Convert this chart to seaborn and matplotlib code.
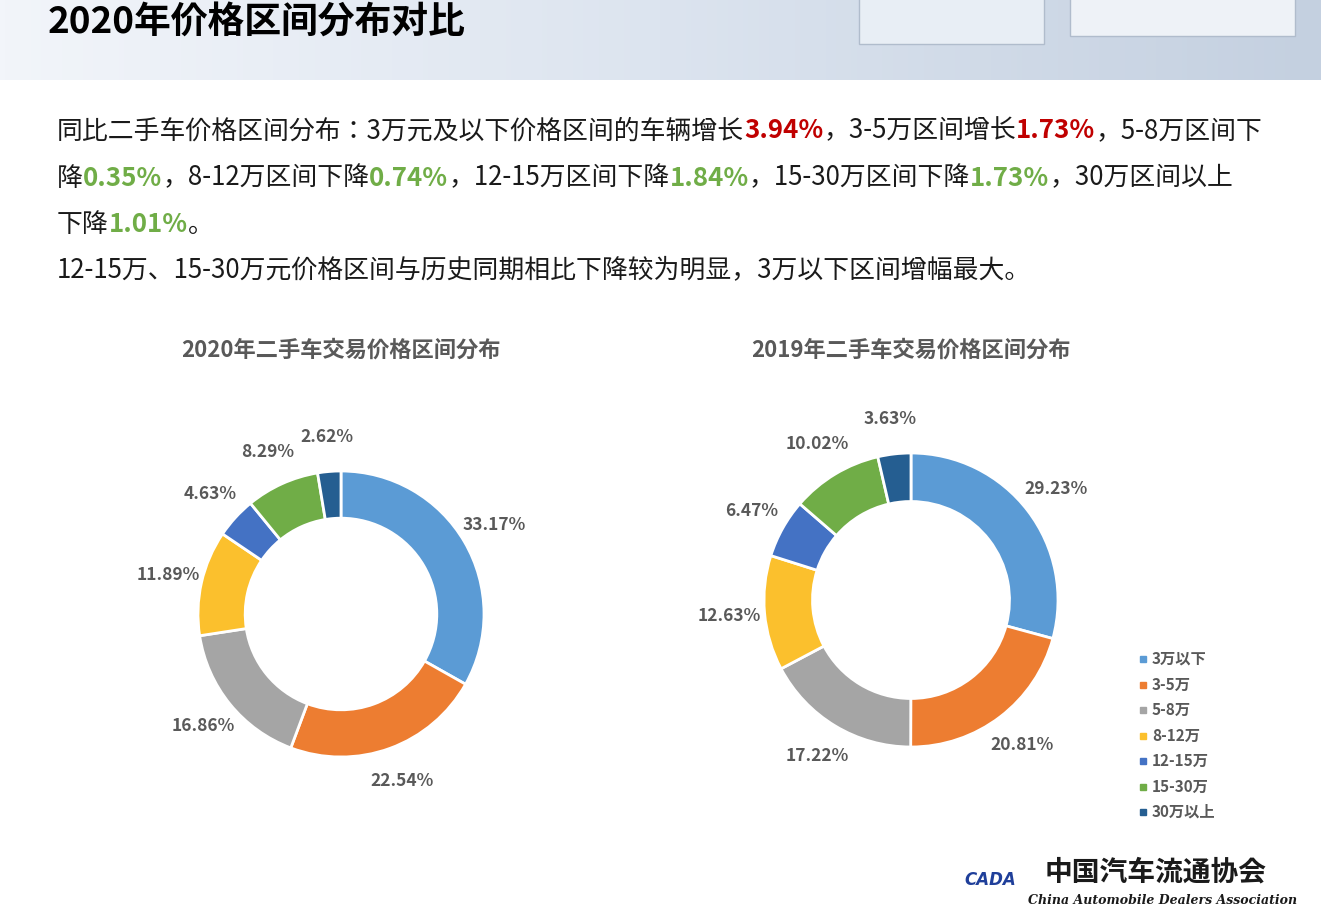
import matplotlib
matplotlib.use("Agg")
import matplotlib.pyplot as plt
import seaborn as sns
from matplotlib.patches import Rectangle
import numpy as np

sns.set_theme(style="white")
CJK = ["Noto Sans CJK SC", "Noto Sans CJK JP", "Noto Sans CJK TC", "Noto Sans CJK KR", "DejaVu Sans"]
plt.rcParams["font.family"] = CJK

categories = ["3万以下", "3-5万", "5-8万", "8-12万", "12-15万", "15-30万", "30万以上"]
values_2020 = [33.17, 22.54, 16.86, 11.89, 4.63, 8.29, 2.62]
values_2019 = [29.23, 20.81, 17.22, 12.63, 6.47, 10.02, 3.63]
colors = ["#5B9BD5", "#ED7D31", "#A5A5A5", "#FBC02D", "#4472C4", "#70AD47", "#255E91"]

W, H = 1321, 914
fig = plt.figure(figsize=(W / 100, H / 100), dpi=100)
fig.patch.set_facecolor("white")

# header band
hdr = fig.add_axes([0, 1 - 80 / H, 1, 80 / H])
grad = np.linspace(0, 1, 256).reshape(1, -1)
hdr.imshow(grad, aspect="auto", cmap=matplotlib.colors.LinearSegmentedColormap.from_list(
    "g", ["#F2F5FA", "#DCE4EF", "#C4D0E0"]), extent=[0, 1, 0, 1])
hdr.add_patch(Rectangle((0.65, 0.45), 0.14, 0.6, color="#E8EEF5", ec="#B0BCCC"))
hdr.add_patch(Rectangle((0.81, 0.55), 0.17, 0.5, color="#EEF2F7", ec="#B0BCCC"))
hdr.set_xlim(0, 1); hdr.set_ylim(0, 1); hdr.axis("off")
fig.text(48 / W, 1 - 22 / H, "2020年价格区间分布对比", fontsize=26.5, fontweight="bold",
         va="center", ha="left", color="black")

# paragraph with coloured numbers
RED, GRN, BLK = "#C00000", "#70AD47", "#1A1A1A"
lines = [
    [("同比二手车价格区间分布：3万元及以下价格区间的车辆增长", BLK), ("3.94%", RED),
     ("，3-5万区间增长", BLK), ("1.73%", RED), ("，5-8万区间下", BLK)],
    [("降", BLK), ("0.35%", GRN), ("，8-12万区间下降", BLK), ("0.74%", GRN),
     ("，12-15万区间下降", BLK), ("1.84%", GRN), ("，15-30万区间下降", BLK),
     ("1.73%", GRN), ("，30万区间以上", BLK)],
    [("下降", BLK), ("1.01%", GRN), ("。", BLK)],
    [("12-15万、15-30万元价格区间与历史同期相比下降较为明显，3万以下区间增幅最大。", BLK)],
]
ys = [131, 178, 224, 270]
fig.canvas.draw()
r = fig.canvas.get_renderer()
for segs, y in zip(lines, ys):
    x = 57
    for s, c in segs:
        bold = c != BLK
        t = fig.text(x / W, 1 - y / H, s, fontsize=18.6, color=c, va="center", ha="left",
                     fontweight="bold" if bold else "normal")
        x += t.get_window_extent(renderer=r).width

def donut(cx, cy, R, vals, title, ty, d):
    ax = fig.add_axes([(cx - R) / W, (H - cy - R) / H, 2 * R / W, 2 * R / H])
    wedges, _ = ax.pie(vals, colors=colors, startangle=90, counterclock=False,
                       wedgeprops=dict(width=0.33, edgecolor="white", linewidth=2))
    for w, v in zip(wedges, vals):
        ang = np.deg2rad((w.theta1 + w.theta2) / 2)
        ax.text(d * np.cos(ang), d * np.sin(ang), f"{v:.2f}%", ha="center", va="center",
                fontsize=12.5, fontweight="bold", color="#595959")
    ax.set_xlim(-1, 1); ax.set_ylim(-1, 1); ax.set_aspect("equal"); ax.axis("off")
    fig.text(cx / W, 1 - ty / H, title, ha="center", va="center", fontsize=16,
             fontweight="bold", color="#595959")

donut(341, 614, 143, values_2020, "2020年二手车交易价格区间分布", 350, 1.24)
donut(911, 600, 147, values_2019, "2019年二手车交易价格区间分布", 350, 1.24)

# legend
for i, (c, lab) in enumerate(zip(colors, categories)):
    y = 659 + i * 25.5
    fig.patches.append(Rectangle(((1140) / W, 1 - (y + 3) / H), 6 / W, 6 / H,
                                 transform=fig.transFigure, color=c))
    fig.text(1152 / W, 1 - y / H, lab, fontsize=11, fontweight="bold", color="#595959",
             va="center", ha="left")

# logo text
fig.text(1045 / W, 1 - 872 / H, "中国汽车流通协会", fontsize=20, fontweight="bold",
         color="#1A1A1A", va="center", ha="left")
fig.text(1028 / W, 1 - 901 / H, "China Automobile Dealers Association", fontsize=9,
         style="italic", fontweight="bold", color="#1A1A1A", va="center", ha="left",
         family="DejaVu Serif")
fig.text(990 / W, 1 - 880 / H, "CADA", fontsize=12, style="italic", fontweight="bold",
         color="#1F3F9A", va="center", ha="center", family="DejaVu Sans")

fig.savefig("out.png", dpi=100, facecolor="white")
